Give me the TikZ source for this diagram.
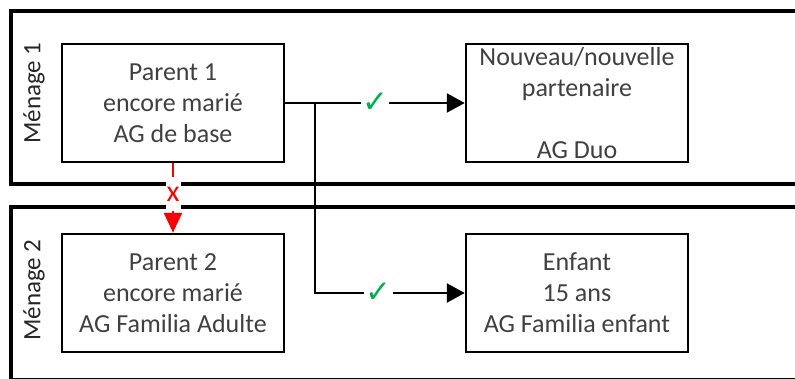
\documentclass[tikz,border=0pt]{standalone}
\usepackage{fontspec}
\setmainfont{Carlito}
\newfontfamily\symfont{DejaVu Sans}
\usetikzlibrary{arrows.meta}
\definecolor{txt}{HTML}{404040}
\definecolor{okgreen}{HTML}{00B050}
\begin{document}
\begin{tikzpicture}[x=1pt,y=-1pt,
  frame/.style={draw=black, line width=4pt},
  box/.style={draw=black, line width=2.5pt, fill=white, minimum width=222pt, minimum height=118pt,
    align=center, text=txt, inner sep=0pt, font=\fontsize{26}{31}\selectfont},
  menage/.style={rotate=90, text=black!85, font=\fontsize{25}{30}\selectfont},
  conn/.style={draw=black, line width=2.5pt, -{Triangle[length=18pt,width=19pt]}},
  chk/.style={fill=white, text=okgreen, inner xsep=1.5pt, inner ysep=0pt, font=\symfont\fontsize{31}{31}\selectfont},
  nolink/.style={draw=red, line width=2.5pt, dash pattern=on 14pt off 6pt, -{Triangle[length=20pt,width=18pt]}},
  xlabel/.style={fill=white, text=red, inner sep=0pt, minimum width=15pt, minimum height=32pt, font=\fontsize{30}{30}\selectfont}
]
\useasboundingbox (0,0) rectangle (795,378);
\clip (0,0) rectangle (795,378);
% household frames
\draw[frame] (10.5,11) rectangle (830,184);
\draw[frame] (10.5,206.5) rectangle (830,379.5);
% labels
\node[menage] (m1) at (34,93) {Ménage 1};
\node[menage] (m2) at (34,290) {Ménage 2};
% boxes
\node[box] (p1) at (173,103) {Parent 1\\encore marié\\AG de base};
\node[box] (np) at (577,103) {Nouveau/nouvelle\\partenaire\\\mbox{}\\AG Duo};
\node[box] (p2) at (173,293) {Parent 2\\encore marié\\AG Familia Adulte};
\node[box] (en) at (577,293) {Enfant\\15 ans\\AG Familia enfant};
% connectors
\coordinate (j) at (315,103);
\draw[conn] (p1.east) -- node[chk, pos=0.5] (c1) {✓} (np.west);
\draw[conn] (j) |- node[chk, pos=0.713] (c2) {✓} (en.west);
\draw[nolink] (p1.south) -- node[xlabel, pos=0.45] (xl) {x} (p2.north);
\end{tikzpicture}
\end{document}
